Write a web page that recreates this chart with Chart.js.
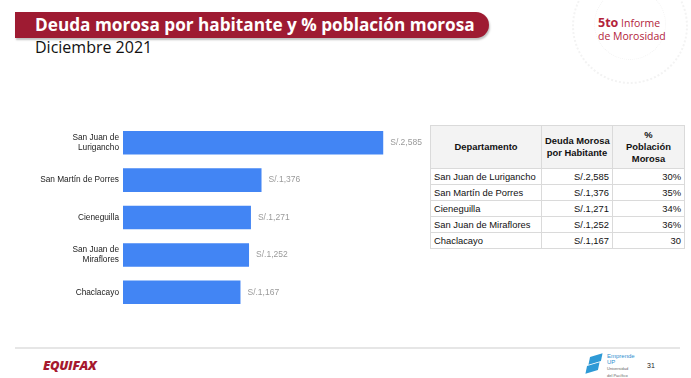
<!DOCTYPE html>
<html>
<head>
<meta charset="utf-8">
<script src="https://cdn.jsdelivr.net/npm/chart.js@4"></script>
<style>
  body { margin: 0; width: 691px; height: 378px; background: #fff; position: relative; overflow: hidden; font-family: "Open Sans", Arial, sans-serif; }
  #banner { position: absolute; left: 15px; top: 12px; width: 474px; height: 26px; background: #9e1b32; border-radius: 0 13px 13px 0; box-shadow: 1px 2px 2px rgba(0,0,0,0.25); }
  #title { position: absolute; left: 35px; top: 13px; color: #fff; font-weight: 700; font-size: 17.2px; white-space: nowrap; }
  #subtitle { position: absolute; left: 35px; top: 36px; color: #111; font-size: 16px; }
  #deco { position: absolute; left: 572px; top: -32px; width: 112px; height: 112px; border-radius: 50%; border: 2px dotted #f3f3f3; }
  #deco2 { position: absolute; left: 594px; top: -12px; width: 70px; height: 70px; border-radius: 50%; border: 1px dotted #f3f3f3; }
  #informe { position: absolute; left: 598px; top: 16px; color: #b3233b; font-size: 10.5px; line-height: 13px; }
  #informe b { font-size: 12.5px; }
  #chartBox { position: absolute; left: 0; top: 115px; width: 430px; height: 210px; }
  #tbl { position: absolute; left: 430px; top: 125px; width: 254px; table-layout: fixed; border-collapse: collapse; font-family: Arial, "Liberation Sans", sans-serif; font-size: 9.4px; color: #111; }
  #tbl th, #tbl td { border: 1px solid #dadada; padding: 0 3px; overflow: hidden; white-space: nowrap; }
  #tbl th { background: #f3f3f3; font-weight: 700; height: 42px; text-align: center; line-height: 12px; }
  #tbl td { height: 15px; }
  #tbl td.num { text-align: right; }
  #footline { position: absolute; left: 15px; top: 347px; width: 665px; height: 2px; background: #e6e6e6; }
  #equifax { position: absolute; left: 43px; top: 356px; color: #a6192e; font-weight: 800; font-style: italic; font-size: 13px; letter-spacing: -0.3px; }
  #up { position: absolute; left: 607px; top: 353px; color: #2e8fd0; font-size: 6px; line-height: 6px; font-family: Arial, sans-serif; }
  #upmark1 { position: absolute; left: 590px; top: 355px; width: 11px; height: 8px; background: #2e9ad6; transform: skewX(-30deg) rotate(-20deg); }
  #upmark2 { position: absolute; left: 587px; top: 364px; width: 11px; height: 8px; background: #2e9ad6; transform: skewX(-30deg) rotate(-20deg); }
  #page { position: absolute; left: 647px; top: 362px; font-size: 7px; color: #222; font-family: Arial, sans-serif; }
</style>
</head>
<body>
<div id="deco"></div>
<div id="deco2"></div>
<div id="banner"></div>
<div id="title">Deuda morosa por habitante y % población morosa</div>
<div id="subtitle">Diciembre 2021</div>
<div id="informe"><b>5to</b> Informe<br>de Morosidad</div>

<div id="chartBox"><canvas id="barChart"></canvas></div>

<table id="tbl">
  <colgroup><col style="width:111px"><col style="width:71px"><col style="width:72px"></colgroup>
  <thead>
    <tr><th>Departamento</th><th>Deuda Morosa<br>por Habitante</th><th>%<br>Población<br>Morosa</th></tr>
  </thead>
  <tbody id="tbody"></tbody>
</table>

<div id="footline"></div>
<div id="equifax">EQUIFAX</div>
<div id="upmark1"></div>
<div id="upmark2"></div>
<div id="up">Emprende<br>UP<br><span style="font-size:4px;color:#666">Universidad<br>del Pacífico</span></div>
<div id="page">31</div>

<script>
const districts = ["San Juan de Lurigancho", "San Martín de Porres", "Cieneguilla", "San Juan de Miraflores", "Chaclacayo"];
const axisLabels = [["San Juan de", "Lurigancho"], "San Martín de Porres", "Cieneguilla", ["San Juan de", "Miraflores"], "Chaclacayo"];
const debtPerHabitant = [2585, 1376, 1271, 1252, 1167];
const pctMorosa = ["30%", "35%", "34%", "36%", "30"];

function soles(v) {
  return "S/." + v.toLocaleString("en-US");
}

// table
const tbody = document.getElementById("tbody");
districts.forEach((d, i) => {
  const tr = document.createElement("tr");
  tr.innerHTML = "<td>" + d + "</td><td class='num'>" + soles(debtPerHabitant[i]) + "</td><td class='num'>" + pctMorosa[i] + "</td>";
  tbody.appendChild(tr);
});

// value labels at the end of each bar
const valueLabels = {
  id: "valueLabels",
  afterDatasetsDraw(chart) {
    const ctx = chart.ctx;
    const meta = chart.getDatasetMeta(0);
    ctx.save();
    ctx.font = "8.5px Arial";
    ctx.fillStyle = "#9a9a9a";
    ctx.textAlign = "left";
    ctx.textBaseline = "middle";
    meta.data.forEach((bar, i) => {
      ctx.fillText(soles(debtPerHabitant[i]), bar.x + 7, bar.y);
    });
    ctx.restore();
  }
};

new Chart(document.getElementById("barChart"), {
  type: "bar",
  data: {
    labels: axisLabels,
    datasets: [{
      data: debtPerHabitant,
      backgroundColor: "#4285f4",
      borderWidth: 0,
      barPercentage: 0.63,
      categoryPercentage: 1
    }]
  },
  options: {
    indexAxis: "y",
    responsive: true,
    maintainAspectRatio: false,
    animation: false,
    layout: { padding: { top: 7, bottom: 12, right: 5 } },
    plugins: {
      legend: { display: false },
      tooltip: { enabled: false }
    },
    scales: {
      x: { display: false, min: 0, max: 3000 },
      y: {
        grid: { display: false, drawTicks: false },
        border: { display: false },
        ticks: { color: "#222", font: { family: "Arial", size: 8.3 }, padding: 4 },
        afterFit(scale) { scale.width = 123; }
      }
    }
  },
  plugins: [valueLabels]
});
</script>
</body>
</html>
